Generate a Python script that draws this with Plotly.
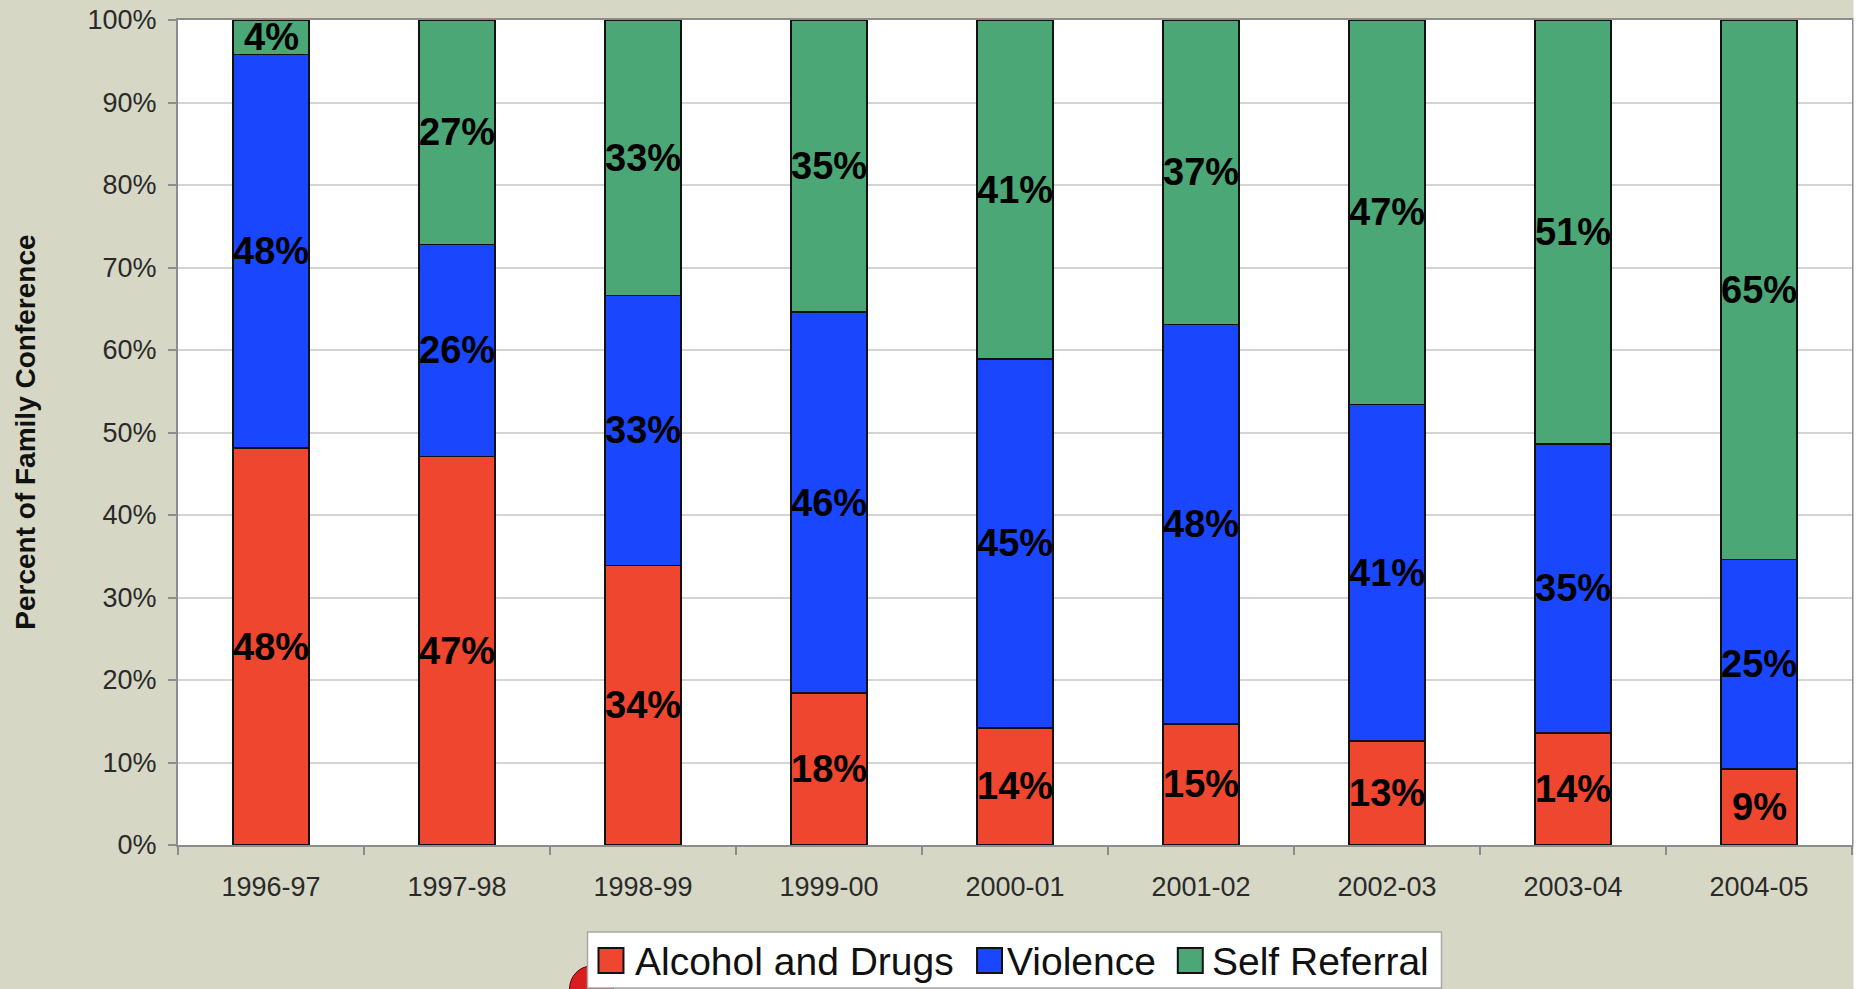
import plotly.graph_objects as go

categories = ["1996-97", "1997-98", "1998-99", "1999-00", "2000-01",
              "2001-02", "2002-03", "2003-04", "2004-05"]
alcohol_drugs = [48.1, 47.1, 33.9, 18.4, 14.2, 14.7, 12.6, 13.6, 9.2]
violence = [47.7, 25.7, 32.7, 46.2, 44.7, 48.4, 40.8, 35.0, 25.4]
self_referral = [4.2, 27.2, 33.4, 35.4, 41.1, 36.9, 46.6, 51.4, 65.4]
series_names = ["Alcohol and Drugs", "Violence", "Self Referral"]
y_ticks = [0, 10, 20, 30, 40, 50, 60, 70, 80, 90, 100]
y_title = "Percent of Family Conference"

colors = ["#EE462F", "#1A47FE", "#4BA776"]
BG = "#D6D8C5"
W, H = 1858, 989
L, R, T, B = 178, 4, 20, 144
PW, PH = W - L - R, H - T - B


def px2x(px):
    return (px - L) / PW


def px2y(py):
    return (H - B - py) / PH


fig = go.Figure()
series = [alcohol_drugs, violence, self_referral]
for name, vals, col in zip(series_names, series, colors):
    fig.add_trace(go.Bar(
        x=categories, y=vals, name=name, width=0.41,
        marker=dict(color=col, line=dict(color="#111111", width=1.6)),
        showlegend=False, hoverinfo="x+y+name",
    ))

shapes = []
annotations = []

# segment labels at segment mid-points (computed from the data)
label_font = dict(family="Liberation Sans, Arial, sans-serif", size=38,
                  color="#000000", weight="bold")
base = [0.0] * len(categories)
for vals in series:
    for cat, b, v in zip(categories, base, vals):
        annotations.append(dict(
            x=cat, y=b + v / 2, xref="x", yref="y", text=f"{round(v)}%",
            showarrow=False, xanchor="center", yanchor="middle",
            yshift=0, font=label_font,
        ))
    base = [b + v for b, v in zip(base, vals)]

# y-axis title
annotations.append(dict(
    text=y_title, xref="paper", yref="paper", x=px2x(25), y=0.5,
    xanchor="center", yanchor="middle", textangle=-90, showarrow=False,
    font=dict(family="Liberation Sans, Arial, sans-serif", size=28,
              color="#111111", weight="bold"),
))

# decorative red shape partially behind legend
shapes.append(dict(type="circle", xref="paper", yref="paper",
                   x0=px2x(570), x1=px2x(614), y0=px2y(1012), y1=px2y(966),
                   fillcolor="#D81E1E", line=dict(color="#5a0000", width=1),
                   layer="above"))

# custom legend box
shapes.append(dict(type="rect", xref="paper", yref="paper",
                   x0=px2x(588), x1=px2x(1443), y0=px2y(988), y1=px2y(932),
                   fillcolor="white", line=dict(color="#A8A8A8", width=1.5),
                   layer="above"))
legend_items = [(599, 634), (978, 1006), (1179, 1211)]
for (sx, tx), name, col in zip(legend_items, series_names, colors):
    shapes.append(dict(type="rect", xref="paper", yref="paper",
                       x0=px2x(sx), x1=px2x(sx + 25), y0=px2y(973), y1=px2y(948),
                       fillcolor=col, line=dict(color="#111111", width=2),
                       layer="above"))
    annotations.append(dict(
        text=name, xref="paper", yref="paper", x=px2x(tx), y=px2y(961),
        xanchor="left", yanchor="middle", showarrow=False,
        font=dict(family="Liberation Sans, Arial, sans-serif", size=39,
                  color="#111111"),
    ))

# thin white strip at right edge of the slide
shapes.append(dict(type="rect", xref="paper", yref="paper",
                   x0=px2x(1855.5), x1=px2x(1860), y0=px2y(1000), y1=px2y(-10),
                   fillcolor="white", line=dict(width=0), layer="above"))

fig.update_layout(
    width=W, height=H, autosize=False,
    margin=dict(l=L, r=R, t=T, b=B, pad=0),
    paper_bgcolor=BG, plot_bgcolor="white",
    barmode="stack", bargap=0.59,
    shapes=shapes, annotations=annotations,
    font=dict(family="Liberation Sans, Arial, sans-serif", color="#222222"),
)
fig.update_yaxes(
    range=[0, 100], tickvals=y_ticks, ticktext=[f"{v}%" for v in y_ticks],
    showgrid=True, gridcolor="#D4D4D4", gridwidth=1.5,
    showline=True, linecolor="#8C8C8C", linewidth=2, mirror=True,
    ticks="outside", ticklen=8, tickcolor="#8C8C8C", tickwidth=1.5,
    tickfont=dict(size=27, color="#2A2A2A"), ticklabelstandoff=6,
    zeroline=False, fixedrange=True,
)
fig.update_xaxes(
    type="category", categoryorder="array", categoryarray=categories,
    showline=True, linecolor="#8C8C8C", linewidth=2, mirror=True,
    ticks="outside", ticklen=8, tickcolor="#8C8C8C", tickwidth=1.5,
    tickson="boundaries", tickfont=dict(size=27, color="#2A2A2A"),
    ticklabelstandoff=17, fixedrange=True,
)

fig.write_html("out.html")
